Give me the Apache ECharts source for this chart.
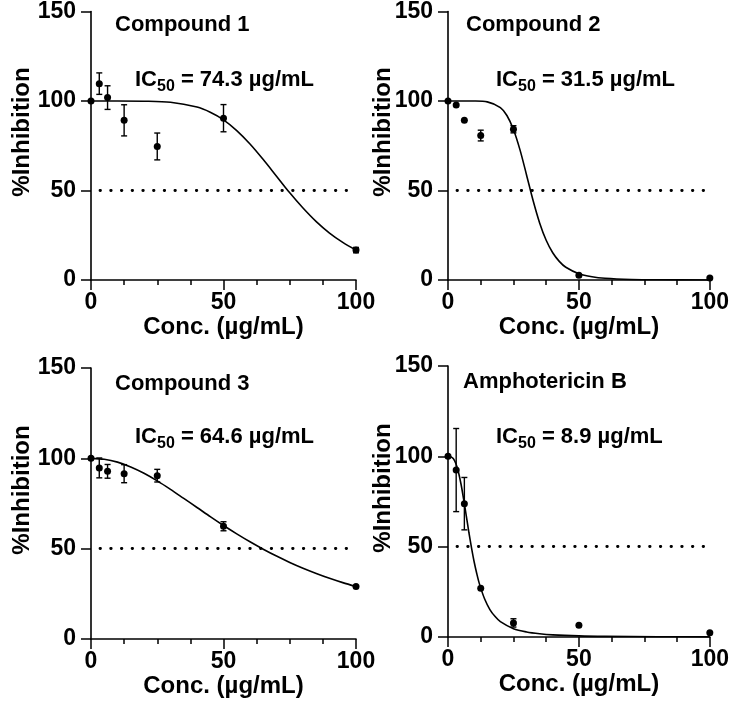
<!DOCTYPE html>
<html>
<head>
<meta charset="utf-8">
<script src="https://cdn.jsdelivr.net/npm/echarts@6/dist/echarts.min.js"></script>
<style>html,body{margin:0;padding:0;background:#fff}#c{width:732px;height:710px}</style>
</head>
<body>
<div id="c"></div>
<script>
// ---- data ----
const conc = [0, 3.125, 6.25, 12.5, 25, 50, 100];
const panelNames = ['Compound 1', 'Compound 2', 'Compound 3', 'Amphotericin B'];
const ic50Values = ['74.3', '31.5', '64.6', '8.9'];
const xTicks = [0, 50, 100];
const yTicks = [0, 50, 100, 150];

const c1Mean = [100, 109.7, 101.9, 89.2, 74.6, 90.4, 16.7];
const c1Err  = [0, 6, 6.6, 8.7, 7.5, 7.6, 1.5];
const c2Mean = [100, 97.8, 89.3, 80.7, 84.2, 2.6, 1.1];
const c2Err  = [0, 0, 0, 3, 2, 0, 0];
const c3Mean = [100, 94.7, 92.8, 91.5, 90.4, 62.4, 29];
const c3Err  = [0, 5.5, 3.8, 5, 3.5, 2.5, 0];
const c4Mean = [100, 92.4, 73.8, 27, 7.8, 6.5, 2.4];
const c4Err  = [0, 23, 14.5, 0, 2.3, 0, 0];

// fitted curves
const fit1X = [0, 10, 20, 30, 40, 45, 50, 55, 60, 65, 70, 75, 80, 85, 90, 95, 100];
const fit1Y = [100, 100, 99.9, 99.3, 96.6, 93.7, 89.5, 83.5, 76.0, 67.3, 58.0, 48.7, 40.2, 32.6, 26.2, 21.0, 16.7];
const fit2X = [0, 5, 10, 15, 20, 22.5, 25, 27.5, 30, 32.5, 35, 37.5, 40, 42.5, 45, 50, 55, 60, 70, 80, 100];
const fit2Y = [100, 100, 99.97, 99.5, 96.3, 91.9, 84.1, 72.7, 58.7, 44.4, 31.9, 22.2, 15.2, 10.4, 7.1, 3.5, 1.8, 0.96, 0.32, 0.12, 0.02];
const fit3X = [0, 5, 10, 15, 20, 25, 30, 35, 40, 45, 50, 55, 60, 65, 70, 75, 80, 85, 90, 95, 100];
const fit3Y = [100, 99.5, 97.9, 95.2, 91.7, 87.5, 82.8, 77.8, 72.8, 67.7, 62.8, 58.2, 53.8, 49.7, 45.9, 42.4, 39.2, 36.3, 33.6, 31.2, 29.0];
const fit4X = [0, 1, 2, 3, 4, 5, 6, 7, 8, 9, 10, 11, 12, 14, 16, 18, 20, 25, 30, 35, 40, 50, 60, 80, 100];
const fit4Y = [100, 99.8, 98.8, 96.0, 91.2, 84.4, 76.0, 66.9, 57.7, 49.2, 41.5, 35.0, 29.4, 21.0, 15.2, 11.3, 8.5, 4.6, 2.8, 1.8, 1.2, 0.63, 0.37, 0.16, 0.08];
const halfLine = 50;

// ---- layout ----
const FONT = '"Liberation Sans", Arial, Helvetica, sans-serif';
const grids = [
  {left: 91, top: 11, width: 265, height: 269},
  {left: 448, top: 11, width: 265, height: 269},
  {left: 91, top: 368, width: 265, height: 271},
  {left: 448, top: 366, width: 265, height: 271}
];
const nameTitlePos = [[115, 14], [466, 14], [115, 373], [463, 371]];
const icTitlePos = [[135, 65], [496, 65], [135, 422], [496, 422]];
const yNamePos = [[22, 132], [383, 132], [22, 490], [383, 488]];

const means = [c1Mean, c2Mean, c3Mean, c4Mean];
const errs = [c1Err, c2Err, c3Err, c4Err];
const fitXs = [fit1X, fit2X, fit3X, fit4X];
const fitYs = [fit1Y, fit2Y, fit3Y, fit4Y];

const chart = echarts.init(document.getElementById('c'), null, {renderer: 'canvas'});

const xAxes = [], yAxes = [], series = [], titles = [], graphics = [];
for (let i = 0; i < 4; i++) {
  xAxes.push({
    type: 'value', gridIndex: i, min: xTicks[0], max: xTicks[xTicks.length - 1], interval: xTicks[1] - xTicks[0],
    name: 'Conc. (µg/mL)', nameLocation: 'middle', nameGap: 34,
    nameTextStyle: {fontFamily: FONT, fontSize: 24, fontWeight: 'bold', color: '#000'},
    axisLine: {show: true, onZero: false, lineStyle: {color: '#000', width: 1.6}},
    axisTick: {show: true, length: 10, lineStyle: {color: '#000', width: 1.5}},
    minorTick: {show: true, splitNumber: 4, length: 5, lineStyle: {color: '#000', width: 1.5}},
    splitLine: {show: false},
    axisLabel: {fontFamily: FONT, fontSize: 23, fontWeight: 'bold', color: '#000', margin: 11}
  });
  yAxes.push({
    type: 'value', gridIndex: i, min: yTicks[0], max: yTicks[yTicks.length - 1], interval: yTicks[1] - yTicks[0],
    axisLine: {show: true, onZero: false, lineStyle: {color: '#000', width: 1.6}},
    axisTick: {show: true, length: 10, lineStyle: {color: '#000', width: 1.5}},
    splitLine: {show: false},
    axisLabel: {fontFamily: FONT, fontSize: 23, fontWeight: 'bold', color: '#000', margin: 15}
  });
  series.push({
    type: 'line', xAxisIndex: i, yAxisIndex: i, showSymbol: false, smooth: 0.3,
    lineStyle: {color: '#000', width: 1.6}, silent: true, z: 2,
    data: fitXs[i].map((x, k) => [x, fitYs[i][k]])
  });
  series.push({
    type: 'custom', xAxisIndex: i, yAxisIndex: i, z: 3, silent: true,
    data: conc.map((x, k) => [x, means[i][k], errs[i][k]]).filter(d => d[2] > 0),
    encode: {x: 0, y: 1},
    renderItem: function (params, api) {
      const x = api.value(0), y = api.value(1), e = api.value(2);
      const top = api.coord([x, y + e]);
      const bot = api.coord([x, y - e]);
      const hw = 3;
      const st = {stroke: '#000', lineWidth: 1.4};
      return {type: 'group', children: [
        {type: 'line', shape: {x1: top[0], y1: top[1], x2: bot[0], y2: bot[1]}, style: st},
        {type: 'line', shape: {x1: top[0] - hw, y1: top[1], x2: top[0] + hw, y2: top[1]}, style: st},
        {type: 'line', shape: {x1: bot[0] - hw, y1: bot[1], x2: bot[0] + hw, y2: bot[1]}, style: st}
      ]};
    }
  });
  series.push({
    type: 'scatter', xAxisIndex: i, yAxisIndex: i, symbol: 'circle', symbolSize: 7, z: 4,
    itemStyle: {color: '#000', opacity: 1},
    data: conc.map((x, k) => [x, means[i][k]]),
    markLine: {
      silent: true, symbol: 'none', label: {show: false},
      lineStyle: {color: '#000', width: 2.8, type: [0.5, 10.2], cap: 'round', dashOffset: -9, opacity: 1},
      data: [{yAxis: halfLine}]
    }
  });
  titles.push({
    text: panelNames[i], left: nameTitlePos[i][0], top: nameTitlePos[i][1], padding: 0,
    textStyle: {fontFamily: FONT, fontSize: 22, fontWeight: 'bold', color: '#000', lineHeight: 22}
  });
  titles.push({
    text: '{a|IC}{s|50}{a| = ' + ic50Values[i] + ' µg/mL}', left: icTitlePos[i][0], top: icTitlePos[i][1], padding: 0,
    textStyle: {
      rich: {
        a: {fontFamily: FONT, fontSize: 22, fontWeight: 'bold', color: '#000', lineHeight: 30, verticalAlign: 'middle'},
        s: {fontFamily: FONT, fontSize: 16, fontWeight: 'bold', color: '#000', lineHeight: 16, verticalAlign: 'bottom'}
      }
    }
  });
  graphics.push({
    type: 'text', x: yNamePos[i][0], y: yNamePos[i][1], rotation: Math.PI / 2,
    style: {text: '%Inhibition', font: 'bold 24px ' + FONT, fill: '#000',
      align: 'center', verticalAlign: 'middle', textAlign: 'center', textVerticalAlign: 'middle'}
  });
}

chart.setOption({
  animation: false,
  backgroundColor: '#fff',
  title: titles,
  grid: grids,
  xAxis: xAxes,
  yAxis: yAxes,
  series: series,
  graphic: graphics
});
</script>
</body>
</html>
